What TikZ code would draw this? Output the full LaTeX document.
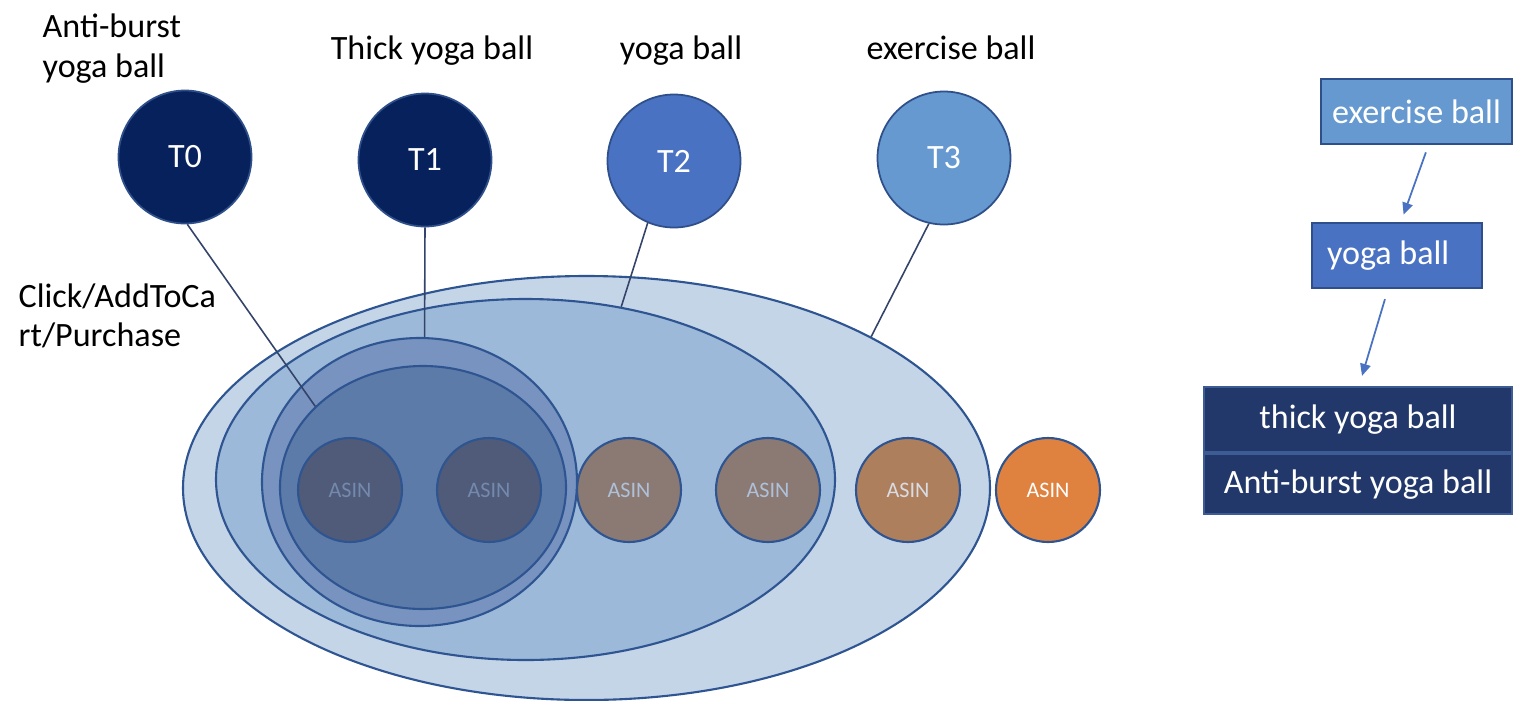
\documentclass[tikz,border=0pt]{standalone}
\usepackage{fontspec}
\setmainfont{Carlito}
\usepackage{tikz}
\usetikzlibrary{arrows.meta,positioning,shapes.geometric}
\definecolor{topicnavy}{HTML}{06215C}
\definecolor{topicblue}{HTML}{4A72C2}
\definecolor{topiclight}{HTML}{6699D0}
\definecolor{topicline}{HTML}{2F4F8A}
\definecolor{regionline}{HTML}{2E5591}
\definecolor{regionthree}{HTML}{C5D5E8}
\definecolor{regiontwo}{HTML}{9DB9D9}
\definecolor{regionone}{HTML}{7893BF}
\definecolor{regionzero}{HTML}{5D7BA8}
\definecolor{asindeep}{HTML}{4F5B78}
\definecolor{asindeeptext}{HTML}{7489AE}
\definecolor{asinmid}{HTML}{8A7A73}
\definecolor{asinmidtext}{HTML}{AFC1DA}
\definecolor{asinpale}{HTML}{AE7F5D}
\definecolor{asinpaletext}{HTML}{D9DCE4}
\definecolor{asinorange}{HTML}{E0823F}
\definecolor{linkgrey}{HTML}{33436A}
\definecolor{boxdark}{HTML}{22386A}
\definecolor{boxdarkline}{HTML}{3C5C93}
\newcommand{\lblfont}{\fontsize{9.7}{11.1}\selectfont}
\newcommand{\asinfont}{\fontsize{6.3}{7.5}\selectfont}
\tikzset{
  topic/.style    = {circle, draw=topicline, line width=0.5pt, minimum size=13.3mm,
                     inner sep=0pt, text=white, font=\lblfont},
  region/.style   = {ellipse, draw=regionline, line width=0.6pt, inner sep=0pt},
  asin/.style     = {circle, draw=regionline, line width=0.6pt, minimum size=10.4mm,
                     inner sep=0pt, font=\asinfont},
  link/.style     = {linkgrey, line width=0.45pt},
  caption/.style  = {font=\lblfont, inner sep=0pt},
  tag box/.style  = {draw=topicline, line width=0.6pt, text=white, font=\lblfont,
                     inner sep=0pt, minimum height=6.5mm},
  flow/.style     = {-{Triangle[length=3.4pt,width=3pt]}, topicblue, line width=0.5pt},
}

\begin{document}
\begin{tikzpicture}
  \useasboundingbox (0,0) rectangle (15.14,7.00);

  % nested behaviour regions
  \node[region, fill=regionthree, minimum width=80.7mm, minimum height=42.4mm] (r3) at (5.865,2.12) {};
  \node[region, fill=regiontwo, minimum width=61.9mm, minimum height=36.1mm] (r2) at (5.255,2.205) {};
  \node[region, fill=regionone, minimum width=31.5mm, minimum height=28.8mm] (r1) at (4.195,2.18) {};
  \node[region, fill=regionzero, minimum width=28.6mm, minimum height=24.3mm] (r0) at (4.23,2.125) {};

  \foreach \i/\x/\fc/\tc in {0/3.50/asindeep/asindeeptext, 1/4.89/asindeep/asindeeptext,
      2/6.29/asinmid/asinmidtext, 3/7.68/asinmid/asinmidtext,
      4/9.08/asinpale/asinpaletext, 5/10.48/asinorange/white}
    \node[asin, fill=\fc, text=\tc] (a\i) at (\x,2.10) {ASIN};

  % query topics
  \node[topic, fill=topicnavy] (t0) at (1.85,5.43) {T0};
  \node[topic, fill=topicnavy] (t1) at (4.25,5.40) {T1};
  \node[topic, fill=topicblue] (t2) at (6.74,5.39) {T2};
  \node[topic, fill=topiclight] (t3) at (9.44,5.42) {T3};

  \draw[link] (t0.-88) -- (r0.143);
  \draw[link] (t1.south) -- (r1.88);
  \draw[link] (t2.-113) -- (r2.61);
  \draw[link] (t3.-103) -- (r3.28);

  % base of a two-line caption is its last line
  \node[caption, anchor=base west, align=left] (l0) at (0.42,6.23) {Anti-burst\\yoga ball};
  \node[caption, anchor=base] (l1) at (4.32,6.41) {Thick yoga ball};
  \node[caption, anchor=base] (l2) at (6.81,6.41) {yoga ball};
  \node[caption, anchor=base] (l3) at (9.51,6.41) {exercise ball};
  \node[caption, anchor=base west, align=left] (act) at (0.18,3.54) {Click/AddToCa\\rt/Purchase};

  % query hierarchy
  \node[tag box, fill=topiclight, minimum width=19.1mm] (ex) at (14.165,5.885) {exercise ball};
  \node[tag box, fill=topicblue, text width=14mm, inner xsep=1.5mm, align=flush left] (yb) at (13.97,4.445) {yoga ball};
  \node[tag box, fill=boxdark, draw=boxdarkline, minimum width=30.8mm] (thick) at (13.58,2.805) {thick yoga ball};
  \node[tag box, fill=boxdark, draw=boxdarkline, minimum width=30.8mm, minimum height=6mm,
        below=0pt of thick] (anti) {Anti-burst yoga ball};

  \draw[flow, shorten <=2.2pt, shorten >=2.2pt] ([xshift=1.2mm]ex.south) -- ([xshift=0.4mm]yb.north);
  \draw[flow, shorten <=3pt, shorten >=3pt] ([xshift=-0.9mm]yb.south) -- ([xshift=0.1mm]thick.north);
\end{tikzpicture}
\end{document}
